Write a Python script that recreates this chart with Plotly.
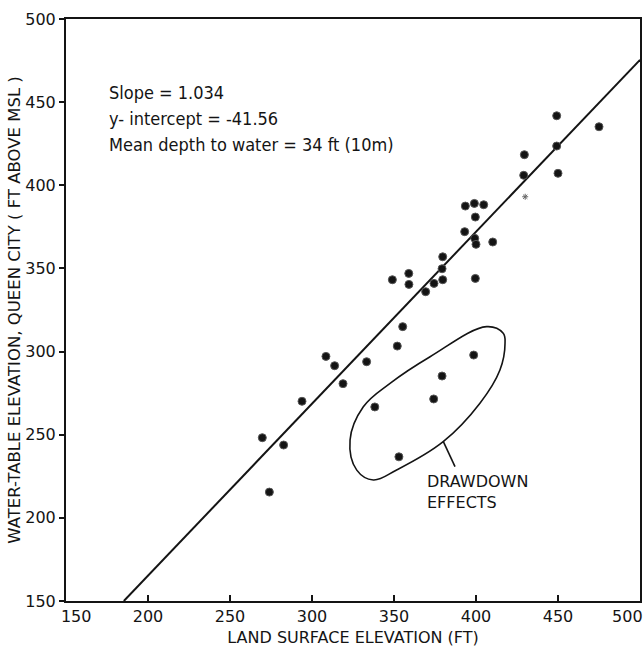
import plotly.graph_objects as go

# Wells plotting on/near the regression line
land_surface_ft = [269.7, 274.0, 282.7, 293.9, 308.5, 313.8, 318.9, 333.3, 349.0, 352.0,
                   355.3, 359.0, 359.1, 369.3, 374.4, 379.7, 379.3, 379.7, 393.1, 393.5,
                   399.0, 399.6, 399.2, 400.0, 399.6, 404.7, 410.2, 429.5, 429.1, 449.2,
                   449.2, 450.0, 475.0]
water_table_ft = [248.2, 215.5, 243.8, 270.1, 297.1, 291.5, 280.7, 293.9, 343.2, 303.3,
                  315.0, 347.0, 340.4, 336.0, 341.0, 343.2, 349.8, 357.0, 372.1, 387.5,
                  389.1, 380.9, 368.1, 364.5, 344.0, 388.3, 365.9, 418.4, 406.0, 441.8,
                  423.6, 407.2, 435.2]

# Wells affected by drawdown
drawdown_land_ft = [338.3, 353.0, 374.2, 379.3, 398.6]
drawdown_water_ft = [266.7, 236.7, 271.5, 285.3, 297.9]

# Faint mark
faint_land_ft = [430.0]
faint_water_ft = [393.1]

# Regression
slope = 1.034
intercept = -41.56
x_min, x_max = 150, 500
y_min, y_max = 150, 500

# Drawdown envelope outline (data units)
envelope_x = [372.0, 406.5, 416.6, 417.7, 414.6, 402.4, 380.0, 351.6, 337.4, 327.3, 323.2, 331.3, 347.6, 372.0]
envelope_y = [296.9, 315.0, 311.0, 305.0, 288.9, 268.9, 245.8, 228.8, 222.8, 228.7, 246.8, 266.8, 280.9, 296.9]
leader_x = [380.1, 387.2]
leader_y = [245.8, 230.8]

tick_vals = [150, 200, 250, 300, 350, 400, 450, 500]
x_tick_text = ["\u00a0\u00a0\u00a0\u00a0150", "200", "250", "300", "350", "400", "450",
               "500\u00a0\u00a0\u00a0\u00a0\u00a0"]
y_tick_text = ["150", "200", "250", "300", "350", "400", "450", "500"]

stats_lines = ["Slope = 1.034", "y- intercept = -41.56", "Mean depth to water = 34 ft (10m)"]

ink = "#141414"
font_main = "DejaVu Sans, Liberation Sans, sans-serif"
font_note = "DejaVu Sans Condensed, Liberation Sans, sans-serif"

line_x = [(y_min - intercept) / slope, x_max]
line_y = [slope * v + intercept for v in line_x]

fig = go.Figure()
fig.add_trace(go.Scatter(x=line_x, y=line_y, mode="lines",
                         line=dict(color=ink, width=2), hoverinfo="skip"))
fig.add_trace(go.Scatter(x=envelope_x, y=envelope_y, mode="lines",
                         line=dict(color=ink, width=1.6, shape="spline", smoothing=1.1),
                         hoverinfo="skip"))
fig.add_trace(go.Scatter(x=leader_x, y=leader_y, mode="lines",
                         line=dict(color=ink, width=1.6), hoverinfo="skip"))
fig.add_trace(go.Scatter(x=land_surface_ft, y=water_table_ft, mode="markers",
                         marker=dict(color=ink, size=8, line=dict(color="#555", width=1))))
fig.add_trace(go.Scatter(x=drawdown_land_ft, y=drawdown_water_ft, mode="markers",
                         marker=dict(color=ink, size=8, line=dict(color="#555", width=1))))
fig.add_trace(go.Scatter(x=faint_land_ft, y=faint_water_ft, mode="markers",
                         marker=dict(symbol="asterisk-open", color="#666", size=5,
                                     line=dict(color="#666", width=1))))

for i, t in enumerate(stats_lines):
    fig.add_annotation(x=0.0714, y=0.874 - i * 0.0447, xref="paper", yref="paper",
                       text=t, showarrow=False, xanchor="left", yanchor="middle",
                       font=dict(family=font_note, size=18, color=ink))

fig.add_annotation(x=369.0, y=215.5, xref="x", yref="y", text="DRAWDOWN<br>EFFECTS",
                   showarrow=False, xanchor="left", yanchor="middle", align="left",
                   font=dict(family=font_main, size=16, color=ink))

fig.update_layout(
    width=644, height=647,
    margin=dict(l=66, r=4, t=19, b=46),
    paper_bgcolor="white", plot_bgcolor="white",
    showlegend=False,
    font=dict(family=font_main, color=ink),
)
fig.update_xaxes(range=[x_min, x_max], tickvals=tick_vals, ticktext=x_tick_text,
                 ticks="inside", ticklen=6, tickwidth=1.5, tickcolor=ink,
                 showline=True, linecolor=ink, linewidth=2, mirror=True,
                 showgrid=False, zeroline=False, automargin=False,
                 ticklabeloverflow="allow",
                 tickfont=dict(size=16, family=font_main, color=ink),
                 title=dict(text="LAND SURFACE ELEVATION (FT)", standoff=11,
                            font=dict(size=16, family=font_main, color=ink)))
fig.update_yaxes(range=[y_min, y_max], tickvals=tick_vals, ticktext=y_tick_text,
                 ticks="outside", ticklen=5, tickwidth=1.5, tickcolor=ink,
                 showline=True, linecolor=ink, linewidth=2, mirror=True,
                 showgrid=False, zeroline=False, automargin=False,
                 ticklabeloverflow="allow",
                 tickfont=dict(size=16, family=font_main, color=ink),
                 title=dict(text="WATER-TABLE ELEVATION, QUEEN CITY ( FT ABOVE MSL )", standoff=0,
                            font=dict(size=16.5, family=font_main, color=ink)))

fig.write_html("out.html", config={"displayModeBar": False},
               post_script="document.body.style.margin='0';")
